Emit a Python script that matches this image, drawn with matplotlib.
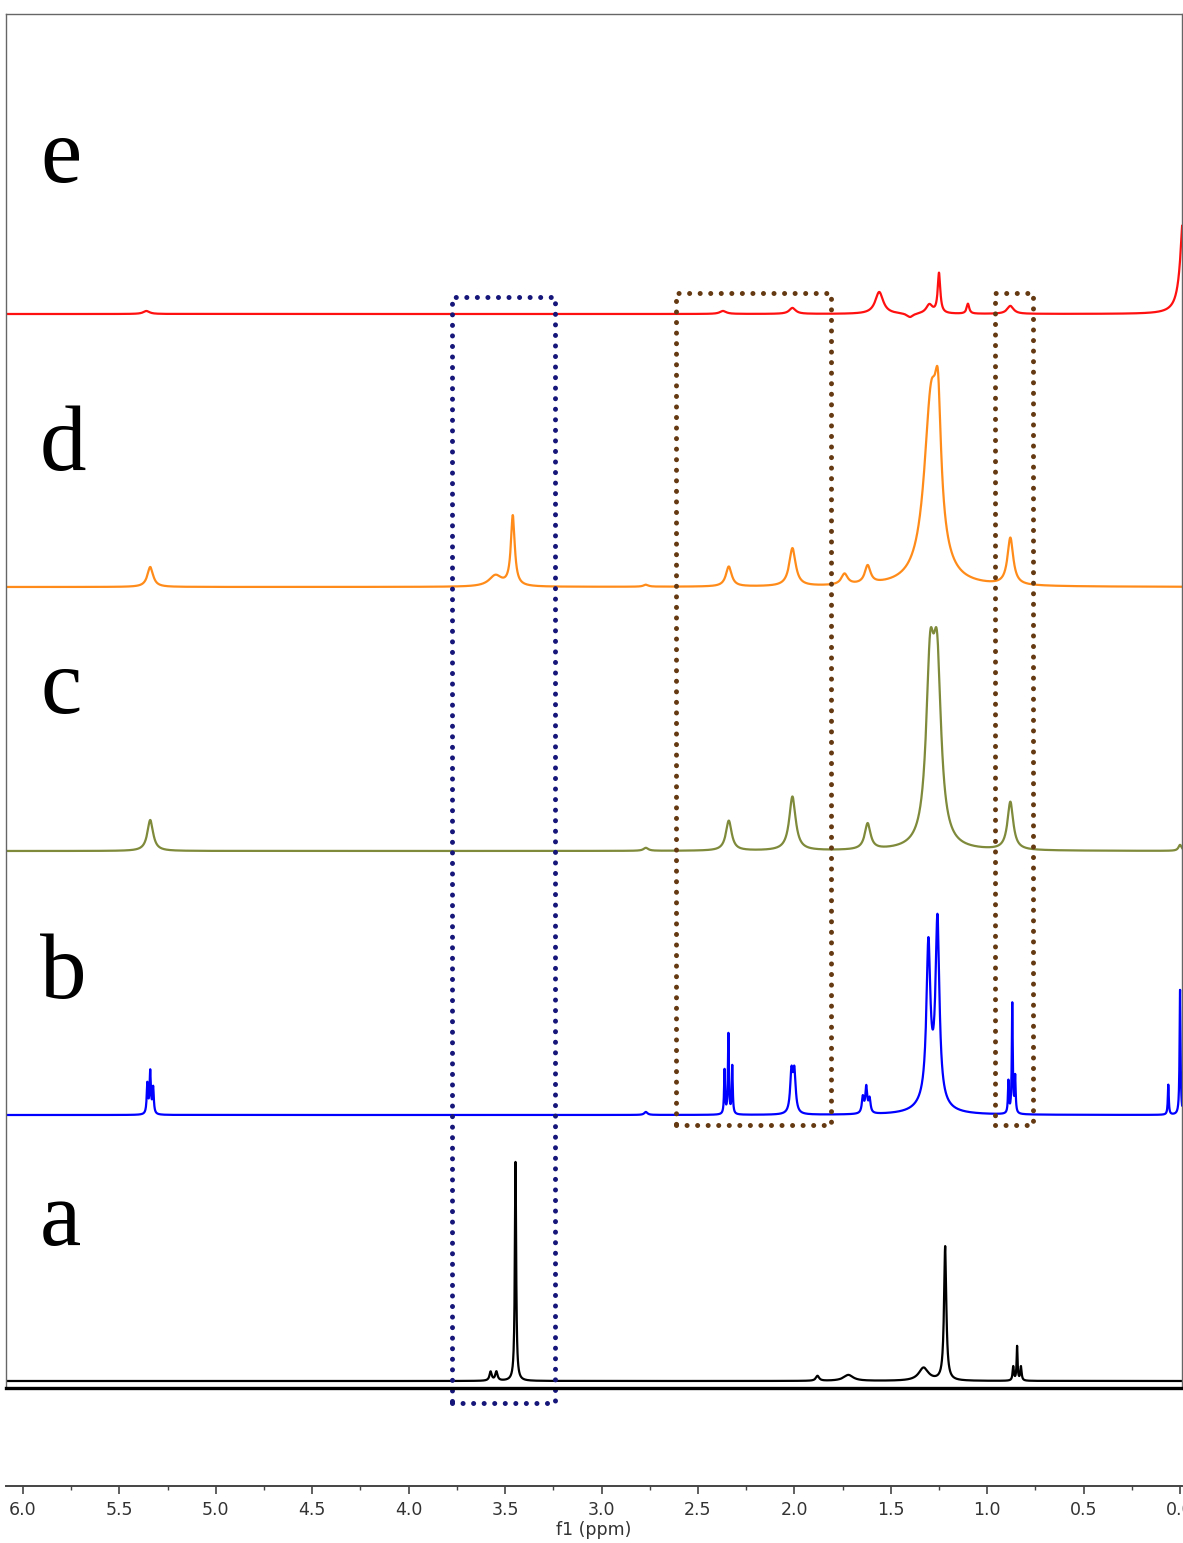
import numpy as np
import matplotlib
matplotlib.use("Agg")
import matplotlib.pyplot as plt

# figure size in pixels
W, H = 1183, 1543

# chemical shift grid (ppm)
ppm = np.arange(-0.02, 6.12, 0.0005)

# vertical offsets of each spectrum (same units as peak heights)
names = ['a', 'b', 'c', 'd', 'e']
colors = ['black', '#0000ff', '#7f8a3a', '#ff8c1a', '#ff1010']
offsets = [7, 273, 537, 801, 1074]

# peak tables: centre (ppm), height, half width (ppm)
a_centers = [3.575, 3.545, 3.446, 1.88, 1.72, 1.33, 1.218, 0.865, 0.845, 0.825]
a_heights = [9, 9, 219, 5, 6, 13, 134, 14, 34, 14]
a_widths = [0.007, 0.007, 0.004, 0.01, 0.03, 0.03, 0.007, 0.004, 0.003, 0.004]

b_centers = [5.355, 5.34, 5.325, 2.77, 2.362, 2.342, 2.322, 2.015, 2.0,
             1.645, 1.627, 1.61, 1.29, 1.305, 1.258, 0.89, 0.87, 0.855, 0.061, 0.0]
b_heights = [30, 42, 26, 3, 44, 80, 48, 40, 40, 16, 26, 14, 18, 150, 178, 32, 110, 36, 30, 125]
b_widths = [0.004, 0.004, 0.004, 0.01, 0.003, 0.003, 0.003, 0.008, 0.008,
            0.006, 0.006, 0.006, 0.06, 0.012, 0.012, 0.003, 0.003, 0.003, 0.003, 0.003]

c_centers = [5.34, 2.77, 2.34, 2.01, 1.62, 1.296, 1.26, 0.88, 0.0]
c_heights = [31, 3, 30, 54, 26, 165, 165, 48, 6]
c_widths = [0.018, 0.015, 0.018, 0.02, 0.018, 0.025, 0.025, 0.018, 0.01]

d_centers = [5.34, 3.55, 3.46, 2.77, 2.34, 2.01, 1.74, 1.62, 1.29, 1.255, 0.88]
d_heights = [20, 11, 70, 2, 20, 38, 11, 18, 185, 100, 47]
d_widths = [0.018, 0.04, 0.012, 0.015, 0.018, 0.02, 0.02, 0.018, 0.045, 0.018, 0.018]

e_centers = [5.36, 2.37, 2.01, 1.56, 1.40, 1.30, 1.25, 1.10, 0.88, -0.02]
e_heights = [3, 3, 6, 22, -4, 9, 40, 10, 8, 108]
e_widths = [0.02, 0.02, 0.02, 0.025, 0.02, 0.02, 0.008, 0.008, 0.02, 0.02]

peak_tables = [
    (a_centers, a_heights, a_widths),
    (b_centers, b_heights, b_widths),
    (c_centers, c_heights, c_widths),
    (d_centers, d_heights, d_widths),
    (e_centers, e_heights, e_widths),
]

# boxes marking regions: (ppm left, ppm right, bottom, top, colour)
boxes = [
    (3.775, 3.241, -15, 1091, '#16167a'),
    (2.613, 1.809, 263, 1095, '#653a12'),
    (0.958, 0.761, 263, 1095, '#653a12'),
]

# letter label baselines (figure pixels from top)
label_y = [1245, 998, 713, 470, 182]


def spectrum(centers, heights, widths):
    y = np.zeros_like(ppm)
    for c, h, w in zip(centers, heights, widths):
        y += h / (1 + ((ppm - c) / w) ** 2)
    return y


fig = plt.figure(figsize=(W / 100, H / 100), dpi=100)

# main frame with the stacked spectra
ax = fig.add_axes([6 / W, (H - 1388) / H, 1176 / W, (1388 - 14) / H])
xlim = (6.088, -0.010)
ax.set_xlim(xlim)
ax.set_ylim(0, 1374)
ax.set_xticks([])
ax.set_yticks([])
for s in ['top', 'left', 'right']:
    ax.spines[s].set_color('#666666')
    ax.spines[s].set_linewidth(1.0)
ax.spines['bottom'].set_color('black')
ax.spines['bottom'].set_linewidth(2.4)

for (cen, hgt, wid), off, col in zip(peak_tables, offsets, colors):
    ax.plot(ppm, off + spectrum(cen, hgt, wid), color=col, lw=1.6)

for x0, x1, y0, y1, col in boxes:
    ax.plot([x0, x1, x1, x0, x0], [y0, y0, y1, y1, y0], color=col, lw=3.6,
            linestyle=(0, (0.01, 2.1)), dash_capstyle='round', clip_on=False)

for name, yl in zip(names, label_y):
    fig.text(40 / W, 1 - yl / H, name, fontsize=67, family='Liberation Serif',
             ha='left', va='baseline')

# ppm scale below the frame
ax2 = fig.add_axes([6 / W, (H - 1486) / H, 1176 / W, 0.0001])
ax2.set_xlim(xlim)
ax2.set_yticks([])
for s in ['top', 'left', 'right']:
    ax2.spines[s].set_visible(False)
ax2.spines['bottom'].set_color('#444444')
ax2.spines['bottom'].set_linewidth(1.4)
ax2.set_xticks(np.arange(0, 6.01, 0.5))
ax2.set_xticks(np.arange(0.25, 6.0, 0.5), minor=True)
ax2.set_xticklabels(['%.1f' % v for v in np.arange(0, 6.01, 0.5)])
ax2.tick_params(axis='x', which='major', length=6, width=1.2, color='#444444',
                labelsize=12.5, pad=5, labelcolor='#333333')
ax2.tick_params(axis='x', which='minor', length=3, width=1.0, color='#444444')
ax2.set_xlabel('f1 (ppm)', fontsize=12.5, labelpad=1, color='#333333')

fig.savefig('out.png', dpi=100)
